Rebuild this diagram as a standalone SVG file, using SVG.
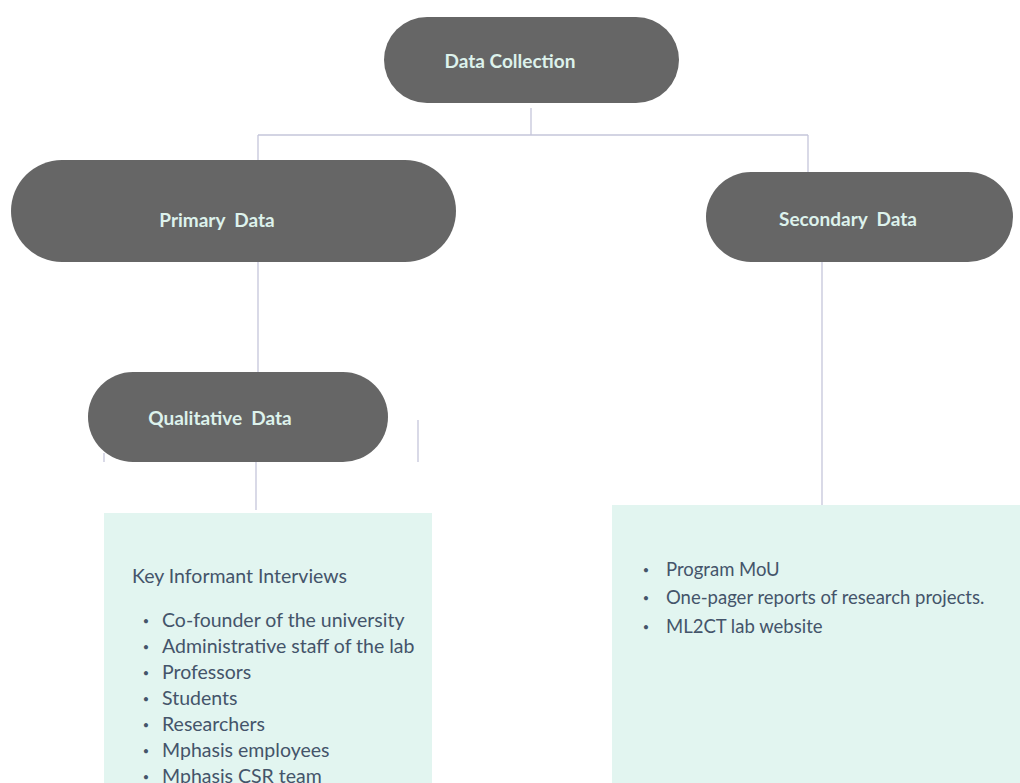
<svg xmlns="http://www.w3.org/2000/svg" width="1020" height="783" viewBox="0 0 1020 783">
<style>
.pill{fill:#666666}
.pt{font-family:Lato,"Liberation Sans",sans-serif;font-weight:bold;font-size:19px;fill:#DDF2EC}
.box{fill:#E2F5F0}
.bt{font-family:Lato,"Liberation Sans",sans-serif;font-size:19.5px;fill:#44546A}
.rt{font-family:Lato,"Liberation Sans",sans-serif;font-size:18.5px;fill:#44546A}
.bu{font-family:Lato,"Liberation Sans",sans-serif;font-size:11px;fill:#44546A;text-anchor:middle}
.con{stroke:#C5C6DA;stroke-width:1.3;fill:none}
</style>
<rect width="1020" height="783" fill="#ffffff"/>
<g id="connectors">
<path class="con" d="M531 108V135M258 135H808M258 135V160M808 135V172M258 262V372M822 262V505M256 462V510M104 453V462M418 420V462"/>
</g>
<g id="data-collection">
<rect class="pill" x="384" y="17" width="295" height="86" rx="43"/>
<text class="pt" x="510" y="68" text-anchor="middle">Data Collection</text>
</g>
<g id="primary-data">
<rect class="pill" x="11" y="160" width="445" height="102" rx="51"/>
<text class="pt" x="217" y="227" text-anchor="middle" xml:space="preserve">Primary  Data</text>
</g>
<g id="secondary-data">
<rect class="pill" x="706" y="172" width="307" height="90" rx="45"/>
<text class="pt" x="848" y="226" text-anchor="middle" xml:space="preserve">Secondary  Data</text>
</g>
<g id="qualitative-data">
<rect class="pill" x="88" y="372" width="300" height="90" rx="45"/>
<text class="pt" x="220" y="425" text-anchor="middle" xml:space="preserve">Qualitative  Data</text>
</g>
<g id="kii-box">
<rect class="box" x="104" y="513" width="328" height="280"/>
<text class="bt" x="132" y="583">Key Informant Interviews</text>
<g class="bu">
<text x="146" y="625">•</text>
<text x="146" y="651">•</text>
<text x="146" y="677">•</text>
<text x="146" y="703">•</text>
<text x="146" y="729">•</text>
<text x="146" y="755">•</text>
<text x="146" y="781">•</text>
</g>
<g class="bt">
<text x="162" y="627">Co-founder of the university</text>
<text x="162" y="653">Administrative staff of the lab</text>
<text x="162" y="679">Professors</text>
<text x="162" y="705">Students</text>
<text x="162" y="731">Researchers</text>
<text x="162" y="757">Mphasis employees</text>
<text x="162" y="783">Mphasis CSR team</text>
</g>
</g>
<g id="secondary-box">
<rect class="box" x="612" y="505" width="420" height="290"/>
<g class="bu">
<text x="646" y="574">•</text>
<text x="646" y="602">•</text>
<text x="646" y="631">•</text>
</g>
<g class="rt">
<text x="666" y="576">Program MoU</text>
<text x="666" y="604">One-pager reports of research projects.</text>
<text x="666" y="633">ML2CT lab website</text>
</g>
</g>
</svg>
